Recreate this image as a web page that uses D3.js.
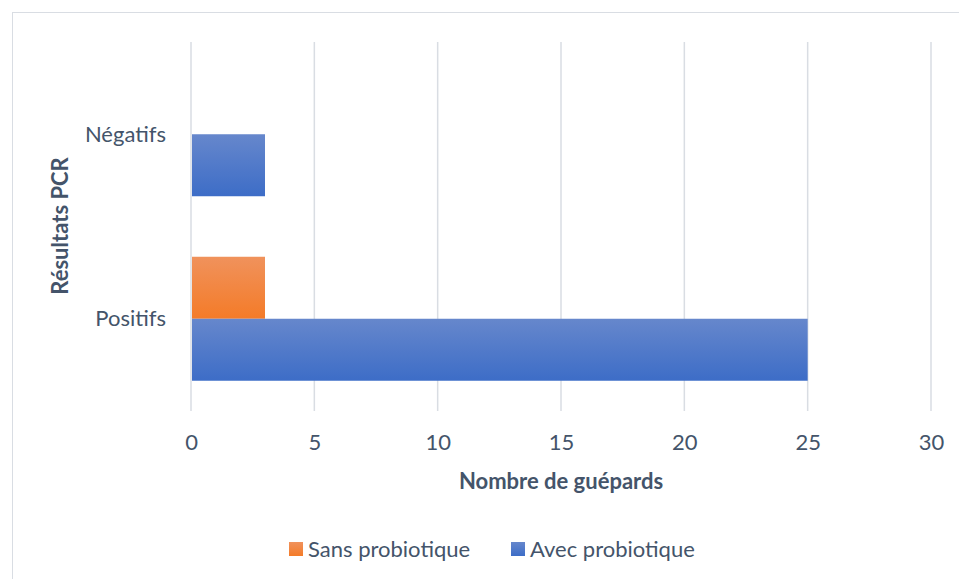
<!DOCTYPE html>
<html><head><meta charset="utf-8">
<script src="https://cdn.jsdelivr.net/npm/d3@7"></script>
<style>body{margin:0;background:#fff}svg{display:block}text{font-family:Lato,"Open Sans",sans-serif}</style>
</head><body>
<svg id="c" width="959" height="579"></svg>
<script>
const categories = ["Négatifs", "Positifs"];
const seriesNames = ["Sans probiotique", "Avec probiotique"];
const sansValues = [0, 3];
const avecValues = [3, 25];
const xTicks = [0, 5, 10, 15, 20, 25, 30];

const colors = {
  "Sans probiotique": ["#F0925C", "#F47B28"],
  "Avec probiotique": ["#6687CC", "#3D6DC7"]
};
const textColor = "#44546A";
const fs = 22;

const svg = d3.select("#c");
const W = 959, H = 579;
const m = {left: 191, right: 28, top: 42, bottom: 168};

svg.append("rect").attr("x", 12.5).attr("y", 12.5).attr("width", W).attr("height", H)
  .attr("fill", "#fff").attr("stroke", "#D9DDE3").attr("stroke-width", 1);

const defs = svg.append("defs");
seriesNames.forEach((s, i) => {
  const g = defs.append("linearGradient").attr("id", "g" + i)
    .attr("x1", 0).attr("y1", 0).attr("x2", 0).attr("y2", 1);
  g.append("stop").attr("offset", "0%").attr("stop-color", colors[s][0]);
  g.append("stop").attr("offset", "100%").attr("stop-color", colors[s][1]);
});

const x = d3.scaleLinear().domain([0, 30]).range([m.left, W - m.right]);
const y = d3.scaleBand().domain(categories).range([m.top, H - m.bottom]).paddingInner(0.328).paddingOuter(0.164);
const ySub = d3.scaleBand().domain(seriesNames).range([0, y.bandwidth()]);

// gridlines
svg.append("g").selectAll("line").data(xTicks).join("line")
  .attr("x1", d => x(d)).attr("x2", d => x(d))
  .attr("y1", m.top).attr("y2", H - m.bottom)
  .attr("stroke", "#D9DDE3").attr("stroke-width", 1.5);

const data = categories.map((c, i) => ({cat: c, vals: [sansValues[i], avecValues[i]]}));
const grp = svg.append("g").selectAll("g").data(data).join("g")
  .attr("transform", d => `translate(0,${y(d.cat)})`);
grp.selectAll("rect").data(d => d.vals.map((v, i) => ({s: seriesNames[i], i, v}))).join("rect")
  .attr("x", x(0) + 1).attr("y", d => ySub(d.s))
  .attr("width", d => Math.max(0, x(d.v) - x(0) - 1)).attr("height", ySub.bandwidth())
  .attr("fill", d => `url(#g${d.i})`);

// x axis
const xAxis = d3.axisBottom(x).tickValues(xTicks).tickSize(0).tickPadding(0);
const xa = svg.append("g").attr("transform", `translate(0,${H - m.bottom})`).call(xAxis);
xa.select(".domain").remove();
xa.selectAll("text").attr("font-size", fs).attr("fill", textColor).attr("dy", null).attr("y", 39);

// y axis
const yAxis = d3.axisLeft(y).tickSize(0).tickPadding(0);
const ya = svg.append("g").attr("transform", `translate(${m.left - 25},0)`).call(yAxis);
ya.select(".domain").remove();
ya.selectAll("text").attr("font-size", fs).attr("fill", textColor).attr("dy", "0.35em");

// titles
svg.append("text").attr("x", 561).attr("y", 489).attr("text-anchor", "middle")
  .attr("font-size", fs).attr("font-weight", "bold").attr("fill", textColor).text("Nombre de guépards");
svg.append("text").attr("transform", "translate(68,226) rotate(-90)").attr("text-anchor", "middle")
  .attr("font-size", fs).attr("font-weight", "bold").attr("fill", textColor).text("Résultats PCR");

// legend
const legX = [289, 511];
const lg = svg.append("g").selectAll("g").data(seriesNames).join("g")
  .attr("transform", (d, i) => `translate(${legX[i]},549)`);
lg.append("rect").attr("x", 0).attr("y", -7).attr("width", 14).attr("height", 14)
  .attr("fill", (d, i) => `url(#g${i})`);
lg.append("text").attr("x", 19).attr("y", 0).attr("dy", "0.35em")
  .attr("font-size", fs).attr("fill", textColor).text(d => d);
</script>
</body></html>
